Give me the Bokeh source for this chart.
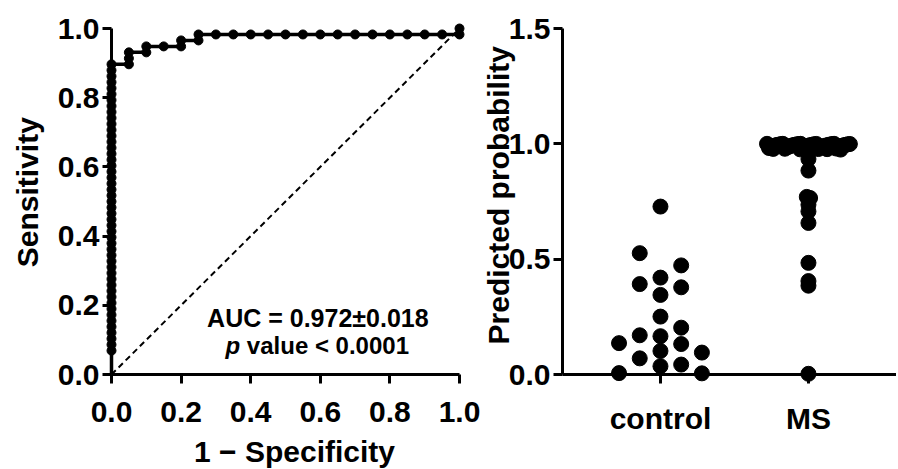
import numpy as np
from bokeh.plotting import figure
from bokeh.layouts import row
from bokeh.models import Range1d, FixedTicker, PrintfTickFormatter
from bokeh.core.properties import value
from bokeh.embed import file_html
from bokeh.resources import INLINE

# ---------------- data ----------------
control_values = [0.728, 0.526, 0.473, 0.420, 0.392, 0.378, 0.345, 0.251, 0.203, 0.170,
                  0.166, 0.136, 0.132, 0.102, 0.095, 0.070, 0.043, 0.036, 0.006, 0.005]
control_slot = [0, -1, 1, 0, -1, 1, 0, 0, 1, -1, 0, -2, 1, 0, 2, -1, 1, 0, -2, 2]

ms_top_values = [1.000, 1.000, 1.000, 1.000, 0.9996, 0.9993, 0.9991, 0.9988, 0.9985, 0.9981,
                 0.9979, 0.9975, 0.9972, 0.9968, 0.9964, 0.9961, 0.9957, 0.9952, 0.9949, 0.9944,
                 0.9940, 0.9936, 0.9931, 0.9927, 0.9921, 0.9916, 0.9911, 0.9905, 0.9899, 0.9893,
                 0.9886, 0.9879, 0.9871, 0.9863, 0.9855, 0.9846, 0.9837, 0.9828, 0.9818, 0.9808,
                 0.9797, 0.9786, 0.9774]
ms_other_values = [0.978, 0.976, 0.977, 0.975, 0.934, 0.884, 0.770, 0.765, 0.736, 0.707,
                   0.657, 0.484, 0.405, 0.385, 0.003]
ms_other_slot = [-1.7, -0.4, 0.9, 1.55, 0, 0, -0.08, 0.08, 0, 0, 0, 0, 0, 0, 0]

group_names = ["control", "MS"]
roc_ticks = [0.0, 0.2, 0.4, 0.6, 0.8, 1.0]
prob_ticks = [0.0, 0.5, 1.0, 1.5]
auc_text = "AUC = 0.972\u00b10.018"
p_word = "p"
p_rest = "value < 0.0001"

FONT = "Liberation Sans"
SLOT = 0.14  # horizontal spacing of swarm slots (data units)

# ---------------- derived ----------------
ctrl = np.array(control_values)
n_top = len(ms_top_values)
top_slot = [-2 + 4 * ((i * 17) % n_top) / (n_top - 1) for i in range(n_top)]
ms = np.array(ms_top_values + ms_other_values)
ms_slot = top_slot + ms_other_slot

thr = np.unique(np.concatenate([ctrl, ms]))[::-1]
fpr = [float((ctrl >= t).mean()) for t in thr]
tpr = [float((ms >= t).mean()) for t in thr]


def style(p):
    p.outline_line_color = None
    p.xgrid.visible = False
    p.ygrid.visible = False
    p.background_fill_color = "white"
    p.border_fill_color = "white"
    for ax in (p.xaxis[0], p.yaxis[0]):
        ax.axis_line_width = 3
        ax.axis_line_color = "black"
        ax.major_tick_line_width = 3
        ax.major_tick_line_color = "black"
        ax.major_tick_out = 9
        ax.major_tick_in = 0
        ax.minor_tick_out = 0
        ax.minor_tick_in = 0
        ax.major_label_text_font = FONT
        ax.major_label_text_font_size = "30px"
        ax.major_label_text_font_style = "bold"
        ax.major_label_text_color = "black"
    p.yaxis[0].major_label_standoff = 3
    p.xaxis[0].major_label_standoff = 18


def title(p, x, y, text, angle=0.0, size="30px", style_="bold", align="center"):
    p.text(x=[x], y=[y], text=[text], angle=angle, text_align=align,
           text_baseline="alphabetic", text_font=value(FONT), level="overlay",
           text_font_size=value(size), text_font_style=style_, text_color="black")


# ---------------- ROC plot ----------------
p1 = figure(width=480, height=469, x_range=Range1d(0, 1), y_range=Range1d(0, 1),
            output_backend="svg", toolbar_location=None,
            min_border_left=111, min_border_right=21, min_border_top=25, min_border_bottom=95)
style(p1)
p1.xaxis[0].ticker = FixedTicker(ticks=roc_ticks)
p1.yaxis[0].ticker = FixedTicker(ticks=roc_ticks)
p1.xaxis[0].formatter = PrintfTickFormatter(format="%.1f")
p1.yaxis[0].formatter = PrintfTickFormatter(format="%.1f")

p1.line([0, 1], [0, 1], line_dash="6 4", line_width=2, line_color="black")
p1.line([0.0] + fpr, [0.0] + tpr, line_width=3.5, line_color="black", level="overlay")
p1.scatter(fpr, tpr, size=9, marker="circle", fill_color="black", line_color="black",
           level="overlay")

title(p1, 0.526, -0.2212, "1 \u2212 Specificity")
title(p1, -0.2428, 0.527, "Sensitivity", angle=np.pi / 2)
title(p1, 0.593, 0.1619, auc_text, size="25px")
title(p1, 0.3276, 0.084, p_word, size="24px", style_="bold italic", align="left")
title(p1, 0.389, 0.084, p_rest, size="24px", align="left")

# ---------------- dot plot ----------------
p2 = figure(width=416, height=469, x_range=Range1d(0.338, 2.595), y_range=Range1d(0, 1.5),
            output_backend="svg", toolbar_location=None,
            min_border_left=82, min_border_right=0, min_border_top=28, min_border_bottom=94)
style(p2)
p2.xaxis[0].ticker = FixedTicker(ticks=[1, 2])
p2.xaxis[0].major_label_overrides = {1: group_names[0], 2: group_names[1]}
p2.yaxis[0].ticker = FixedTicker(ticks=prob_ticks)
p2.yaxis[0].formatter = PrintfTickFormatter(format="%.1f")

cx = [1 + s * SLOT for s in control_slot]
mx = [2 + s * SLOT for s in ms_slot]
p2.scatter(cx, control_values, size=15, marker="circle", fill_color="black",
           line_color="black", level="overlay")
p2.scatter(mx, list(ms), size=15, marker="circle", fill_color="black",
           line_color="black", level="overlay")

title(p2, -0.0946, 0.777, "Predicted probability", angle=np.pi / 2)

layout = row(p1, p2)
open("out.html", "w").write(file_html(layout, INLINE))
